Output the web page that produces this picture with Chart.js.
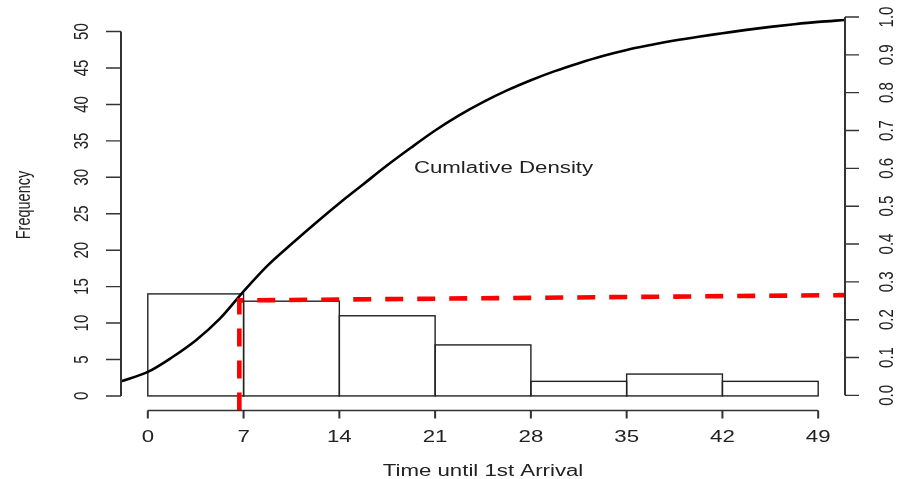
<!doctype html>
<html lang="en">
<head>
<meta charset="utf-8">
<title>Time until 1st Arrival</title>
<script src="https://cdn.jsdelivr.net/npm/chart.js@4.4.1/dist/chart.umd.min.js"></script>
<style>
    html, body { margin: 0; padding: 0; background: #fff; }
    #wrap { width: 908px; height: 479px; }
</style>
</head>
<body>
<div id="wrap"><canvas id="arrivalCanvas" width="908" height="479"></canvas></div>
<script>
    // histogram: bins 7 time units wide, given by their midpoints
    let binMids = [3.5, 10.5, 17.5, 24.5, 31.5, 38.5, 45.5];
    let counts = [14, 13, 11, 7, 2, 3, 2];

    // cumulative density curve (right axis)
    let cdfX = [-1.96, 0, 1.75, 3.5, 5.25, 7, 8.75, 10.5, 12.25, 14, 15.75, 17.5, 19.25, 21,
                22.75, 24.5, 26.25, 28, 29.75, 31.5, 33.25, 35, 36.75, 38.5, 40.25, 42,
                43.75, 45.5, 47.25, 49, 50.96];
    let cdfY = [0.037, 0.062, 0.100, 0.145, 0.202, 0.275, 0.343, 0.400, 0.455, 0.508, 0.558, 0.608, 0.655, 0.700,
                0.740, 0.775, 0.806, 0.833, 0.857, 0.878, 0.897, 0.913, 0.926, 0.938, 0.948, 0.957,
                0.966, 0.974, 0.981, 0.987, 0.992];

    // red marker: up from the axis, then across to the right edge
    let markX = [6.69, 6.69, 50.96];
    let markY = [-0.04, 0.251, 0.265];

    let xTicks = [0, 7, 14, 21, 28, 35, 42, 49];
    let freqTicks = [0, 5, 10, 15, 20, 25, 30, 35, 40, 45, 50];
    let densTicks = [0, 0.1, 0.2, 0.3, 0.4, 0.5, 0.6, 0.7, 0.8, 0.9, 1.0];
    let densLabels = ["0.0", "0.1", "0.2", "0.3", "0.4", "0.5", "0.6", "0.7", "0.8", "0.9", "1.0"];

    const FONT = '"Liberation Sans", Arial, sans-serif';
    const INK = '#222';

    function zip(xs, ys) {
        return xs.map(function (v, i) { return {x: v, y: ys[i]}; });
    }

    // text with a horizontal stretch, optionally turned to read bottom-to-top
    function drawText(ctx, str, px, py, opts) {
        ctx.save();
        ctx.translate(px, py);
        ctx.scale(opts.sx, 1);
        if (opts.rotated) ctx.rotate(-Math.PI / 2);
        ctx.font = opts.size + 'px ' + FONT;
        ctx.fillStyle = INK;
        ctx.textAlign = opts.align || 'center';
        ctx.textBaseline = opts.baseline || 'alphabetic';
        ctx.fillText(str, 0, 0);
        ctx.restore();
    }

    // outline the histogram bars so that neighbouring bins share one edge
    const binOutline = {
        id: 'binOutline',
        afterDatasetDraw(chart, args) {
            if (args.meta.type !== 'bar') return;
            const ctx = chart.ctx;
            ctx.save();
            ctx.strokeStyle = '#222';
            ctx.lineWidth = 1.4;
            args.meta.data.forEach(function (bar) {
                const half = bar.width / 2;
                ctx.strokeRect(bar.x - half, bar.y, bar.width, bar.base - bar.y);
            });
            ctx.restore();
        }
    };

    // base-graphics style axes: lines only span the tick range
    const baseAxes = {
        id: 'baseAxes',
        afterDraw(chart) {
            const ctx = chart.ctx;
            const area = chart.chartArea;
            const x = chart.scales.x, y = chart.scales.y, y2 = chart.scales.y2;
            ctx.save();
            ctx.strokeStyle = '#333';

            // left and right axis lines
            ctx.lineWidth = 2;
            ctx.beginPath();
            ctx.moveTo(area.left, y.getPixelForValue(freqTicks[0]));
            ctx.lineTo(area.left, y.getPixelForValue(freqTicks[freqTicks.length - 1]));
            ctx.moveTo(area.right, y2.getPixelForValue(densTicks[0]));
            ctx.lineTo(area.right, y2.getPixelForValue(densTicks[densTicks.length - 1]));
            ctx.stroke();

            ctx.lineWidth = 1.4;
            ctx.beginPath();
            freqTicks.forEach(function (v) {
                const p = y.getPixelForValue(v);
                ctx.moveTo(area.left, p);
                ctx.lineTo(area.left - 15, p);
            });
            densTicks.forEach(function (v) {
                const p = y2.getPixelForValue(v);
                ctx.moveTo(area.right, p);
                ctx.lineTo(area.right + 14, p);
            });
            // bottom axis
            ctx.moveTo(x.getPixelForValue(xTicks[0]), area.bottom);
            ctx.lineTo(x.getPixelForValue(xTicks[xTicks.length - 1]), area.bottom);
            ctx.stroke();

            ctx.lineWidth = 2;
            ctx.beginPath();
            xTicks.forEach(function (v) {
                const p = x.getPixelForValue(v);
                ctx.moveTo(p, area.bottom);
                ctx.lineTo(p, area.bottom + 8);
            });
            ctx.stroke();
            ctx.restore();

            // tick labels
            freqTicks.forEach(function (v) {
                drawText(ctx, String(v), area.left - 33, y.getPixelForValue(v), {sx: 1.35, rotated: true, size: 15});
            });
            densTicks.forEach(function (v, i) {
                drawText(ctx, densLabels[i], area.right + 48, y2.getPixelForValue(v), {sx: 1.35, rotated: true, size: 15});
            });
            xTicks.forEach(function (v) {
                drawText(ctx, String(v), x.getPixelForValue(v), area.bottom + 31.5, {sx: 1.39, size: 16});
            });

            // axis titles and curve label
            drawText(ctx, 'Frequency', 30, 205, {sx: 1.35, rotated: true, size: 14.5});
            drawText(ctx, 'Time until 1st Arrival', (area.left + area.right) / 2, area.bottom + 65.5, {sx: 1.39, size: 16});
            drawText(ctx, 'Cumlative Density', x.getPixelForValue(26), y2.getPixelForValue(0.6),
                {sx: 1.39, size: 16, baseline: 'middle'});
        }
    };

    new Chart(document.getElementById('arrivalCanvas'), {
        type: 'bar',
        data: {
            datasets: [
                {
                    type: 'line',
                    label: 'marker',
                    data: zip(markX, markY),
                    yAxisID: 'y2',
                    borderColor: '#ff0000',
                    borderWidth: 4.6,
                    borderDash: [18, 14],
                    borderCapStyle: 'butt',
                    pointRadius: 0,
                    tension: 0,
                    order: 0
                },
                {
                    type: 'line',
                    label: 'Cumlative Density',
                    data: zip(cdfX, cdfY),
                    yAxisID: 'y2',
                    borderColor: '#000',
                    borderWidth: 2.6,
                    pointRadius: 0,
                    cubicInterpolationMode: 'monotone',
                    order: 1
                },
                {
                    label: 'Frequency',
                    data: zip(binMids, counts),
                    yAxisID: 'y',
                    backgroundColor: 'rgba(255,255,255,0)',
                    borderWidth: 0,
                    barThickness: 'flex',
                    barPercentage: 1,
                    categoryPercentage: 1,
                    order: 2
                }
            ]
        },
        options: {
            responsive: false,
            animation: false,
            layout: {padding: {left: 121, right: 63, top: 17, bottom: 68.5}},
            scales: {
                x: {type: 'linear', min: -1.96, max: 50.96, offset: false, display: false},
                y: {type: 'linear', min: -2, max: 52, display: false},
                y2: {type: 'linear', min: -0.04, max: 1.0, display: false}
            },
            plugins: {
                legend: {display: false},
                tooltip: {enabled: false}
            }
        },
        plugins: [binOutline, baseAxes]
    });
</script>
</body>
</html>
